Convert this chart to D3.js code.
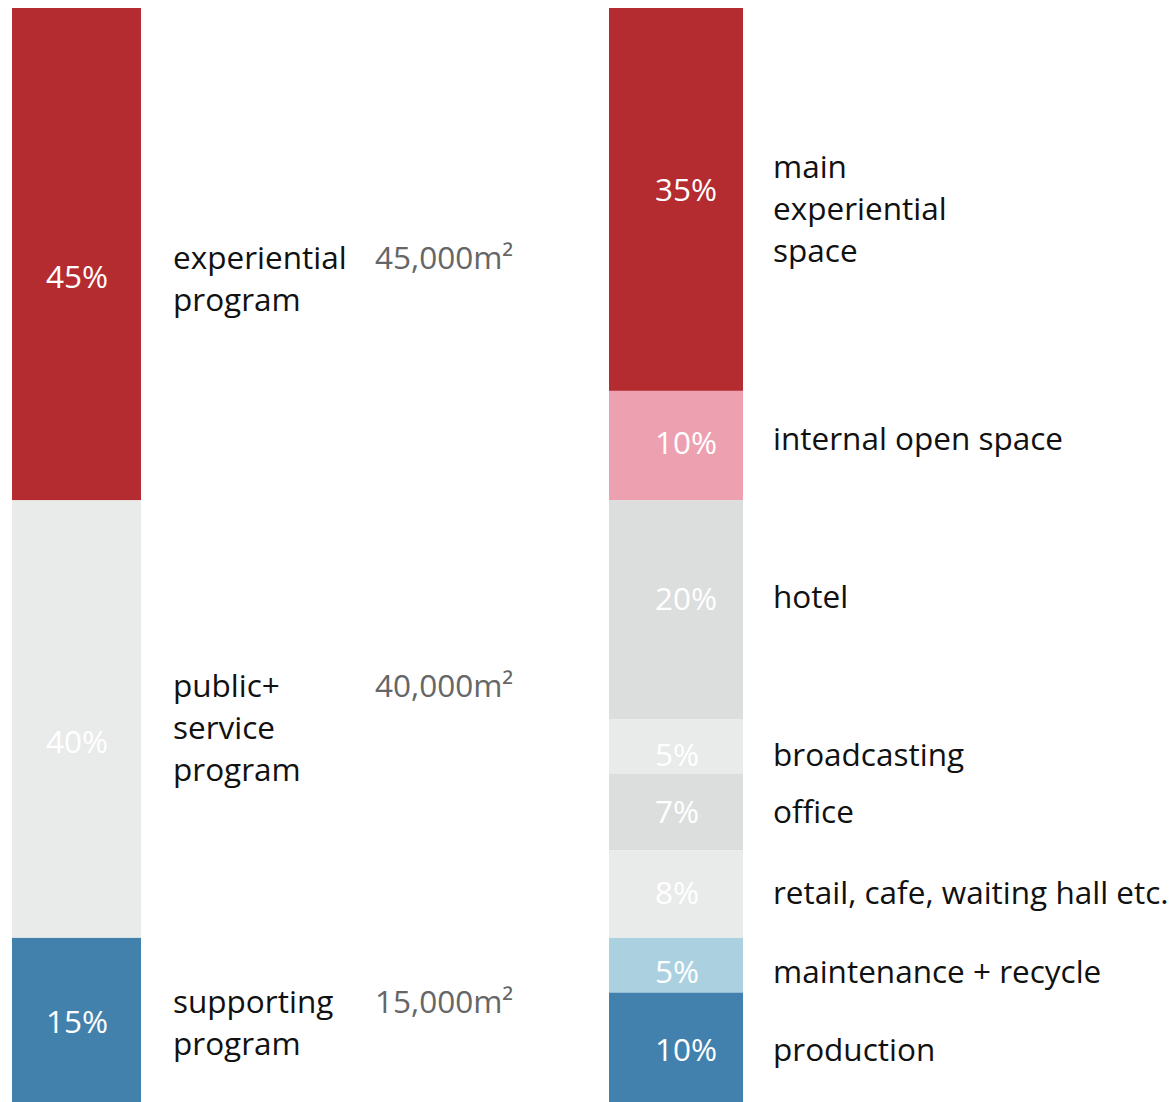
<!DOCTYPE html>
<html>
<head>
<meta charset="utf-8">
<script src="https://cdn.jsdelivr.net/npm/d3@7"></script>
<style>
  html, body { margin: 0; padding: 0; background: #fff; }
  svg { display: block; }
  text { font-family: "Open Sans", "Noto Sans", sans-serif; }
</style>
</head>
<body>
<svg id="chart" width="1174" height="1102"></svg>
<script>
// Programme split (share of total floor area, %)
const programNames = [["experiential", "program"], ["public+", "service", "program"], ["supporting", "program"]];
const programShares = [45, 40, 15];
const programAreas = ["45,000m²", "40,000m²", "15,000m²"];

// Breakdown of each programme into spaces (%)
const spaceNames = [
  ["main", "experiential", "space"],
  ["internal open space"],
  ["hotel"],
  ["broadcasting"],
  ["office"],
  ["retail, cafe, waiting hall etc."],
  ["maintenance + recycle"],
  ["production"]
];
const spaceShares = [35, 10, 20, 5, 7, 8, 5, 10];

// Fills
const programColors = ["#b42b30", "#e9eaea", "#4381ad"];
const spaceColors = ["#b42b30", "#eda0b0", "#dcdddd", "#e9eaea", "#dcdddd", "#e9eaea", "#abd1e1", "#4281ae"];

// Layout
const barTop = 8, barBottom = 1102;
const leftBar = { x: 12, w: 129, pctX: 46 };
const rightBar = { x: 609, w: 134, pctX: 655 };
const fontSize = 31.5;
const lineH = 42;
// vertical fine-tuning of labels relative to the segment middle
const programPctNudge = [23, 23, 2];
const programTextNudge = [25, 9, 3];
const spacePctNudge = [-10, -3, -11, 8, 0, -1, 6, 2];
const spaceTextNudge = [9, -7, -13, 8, 0, -1, 6, 2];

const svg = d3.select("#chart");
const y = d3.scaleLinear().domain([0, 100]).range([barTop, barBottom]);

function stackOf(values) {
  let acc = 0;
  return values.map((v, i) => { const s = acc; acc += v; return { i, v, y0: s, y1: acc }; });
}

function drawBar(stack, bar, colors, pctNudge) {
  const g = svg.append("g");
  g.selectAll("rect").data(stack).join("rect")
    .attr("x", bar.x)
    .attr("width", bar.w)
    .attr("y", d => y(d.y0))
    .attr("height", d => y(d.y1) - y(d.y0))
    .attr("fill", (d) => colors[d.i]);
  g.selectAll("text").data(stack).join("text")
    .attr("x", bar.pctX)
    .attr("y", d => (y(d.y0) + y(d.y1)) / 2 + pctNudge[d.i])
    .attr("dy", "0.36em")
    .attr("text-anchor", "start")
    .attr("fill", "#fff")
    .attr("font-size", fontSize)
    .text(d => d.v + "%");
}

function drawNames(stack, names, x, nudge) {
  const g = svg.append("g");
  stack.forEach(d => {
    const lines = names[d.i];
    const mid = (y(d.y0) + y(d.y1)) / 2 + nudge[d.i];
    const first = mid - (lines.length - 1) * lineH / 2;
    const t = g.append("text")
      .attr("x", x)
      .attr("font-size", fontSize)
      .attr("fill", "#111");
    lines.forEach((ln, k) => {
      t.append("tspan").attr("x", x).attr("y", first + k * lineH).attr("dy", "0.36em").text(ln);
    });
    d.firstLine = first;
  });
}

const progStack = stackOf(programShares);
const spaceStack = stackOf(spaceShares);

drawBar(progStack, leftBar, programColors, programPctNudge);
drawBar(spaceStack, rightBar, spaceColors, spacePctNudge);
drawNames(progStack, programNames, 173, programTextNudge);
drawNames(spaceStack, spaceNames, 773, spaceTextNudge);

// Floor areas beside the first line of each programme name
svg.append("g").selectAll("text").data(progStack).join("text")
  .attr("x", 375)
  .attr("y", d => d.firstLine)
  .attr("dy", "0.36em")
  .attr("text-anchor", "start")
  .attr("font-size", fontSize)
  .attr("fill", "#666")
  .text(d => programAreas[d.i]);
</script>
</body>
</html>
